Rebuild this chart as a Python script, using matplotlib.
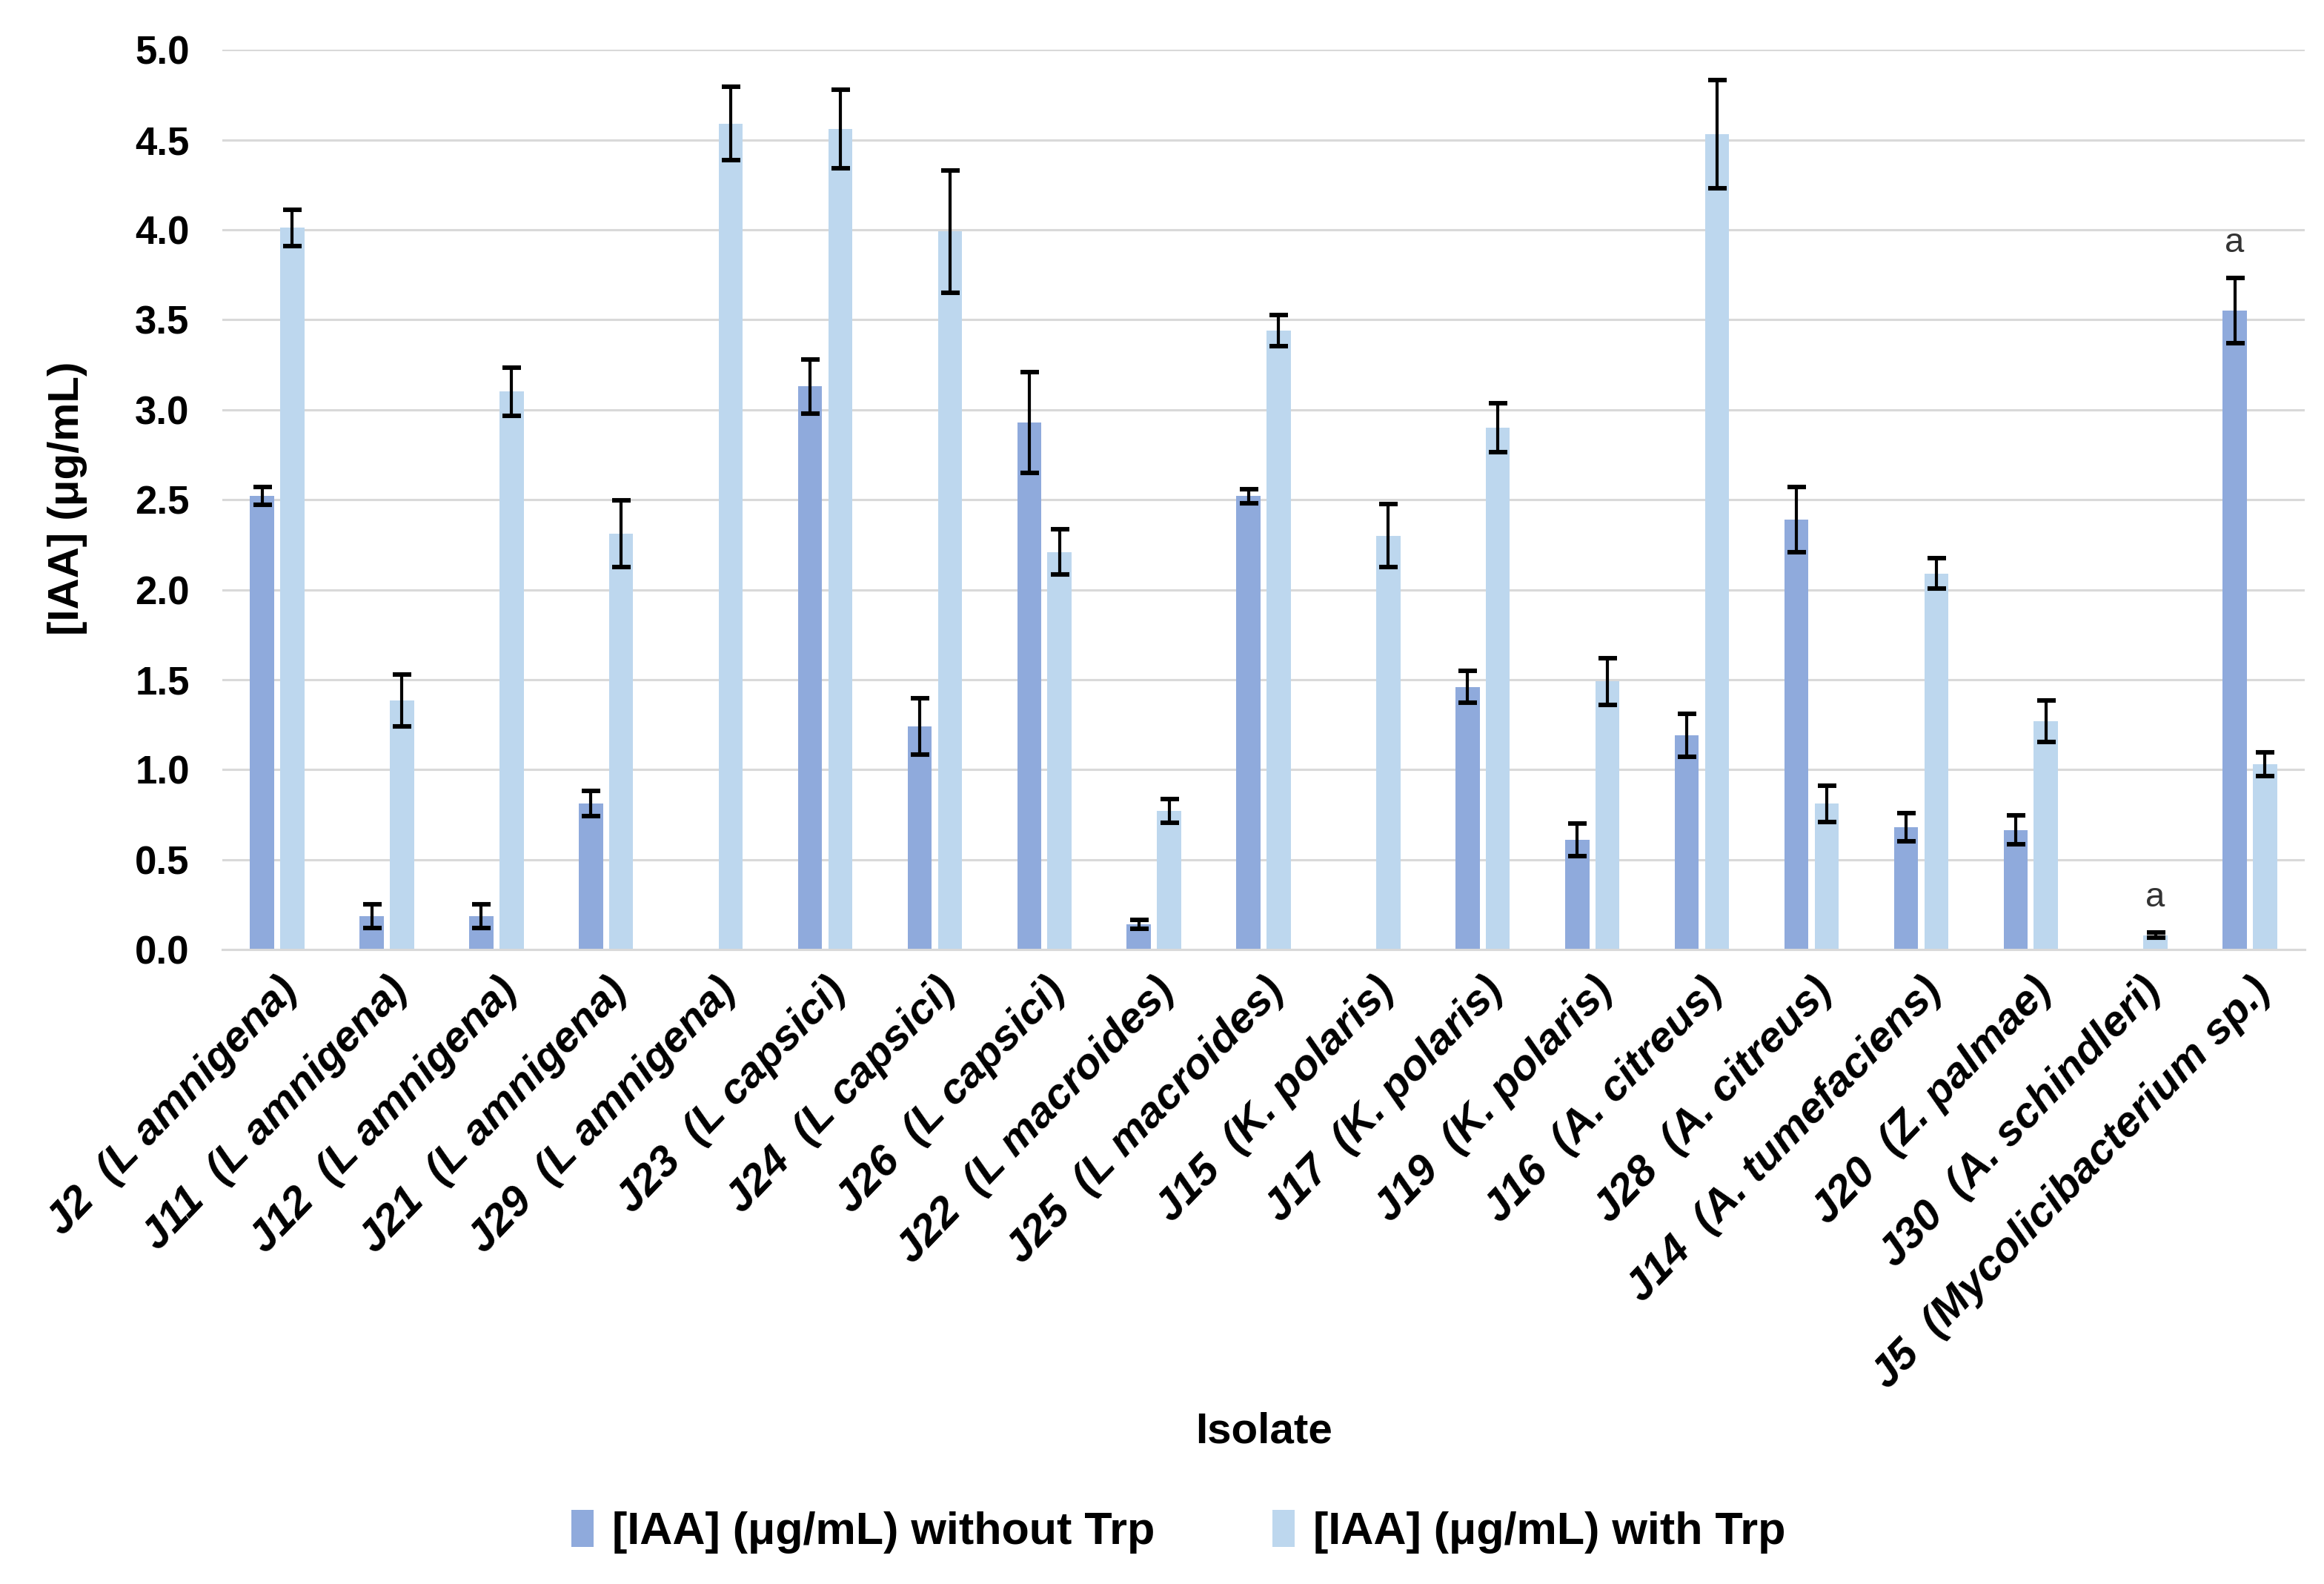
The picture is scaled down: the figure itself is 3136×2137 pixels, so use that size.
import numpy as np
import matplotlib.pyplot as plt

plt.rcParams['font.family'] = ['Liberation Sans', 'DejaVu Sans']

# isolates and species (x labels)
isolates = ['J2', 'J11', 'J12', 'J21', 'J29', 'J23', 'J24', 'J26', 'J22', 'J25',
            'J15', 'J17', 'J19', 'J16', 'J28', 'J14', 'J20', 'J30', 'J5']
species = ['L amnigena', 'L amnigena', 'L amnigena', 'L amnigena', 'L amnigena',
           'L capsici', 'L capsici', 'L capsici', 'L macroides', 'L macroides',
           'K. polaris', 'K. polaris', 'K. polaris', 'A. citreus', 'A. citreus',
           'A. tumefaciens', 'Z. palmae', 'A. schindleri', 'Mycolicibacterium sp.']

# [IAA] without Trp (mean, error)
iaa_without = [2.52, 0.185, 0.185, 0.81, 0.0, 3.13, 1.24, 2.93, 0.14, 2.52,
               0.0, 1.46, 0.61, 1.19, 2.39, 0.68, 0.665, 0.0, 3.55]
err_without = [0.05, 0.065, 0.065, 0.07, 0.0, 0.15, 0.155, 0.28, 0.025, 0.04,
               0.0, 0.09, 0.09, 0.12, 0.18, 0.08, 0.08, 0.0, 0.18]

# [IAA] with Trp (mean, error)
iaa_with = [4.01, 1.385, 3.10, 2.31, 4.59, 4.56, 3.99, 2.21, 0.77, 3.44,
            2.30, 2.90, 1.49, 4.53, 0.81, 2.09, 1.27, 0.08, 1.03]
err_with = [0.10, 0.145, 0.135, 0.185, 0.205, 0.22, 0.34, 0.125, 0.065, 0.085,
            0.175, 0.135, 0.13, 0.30, 0.10, 0.085, 0.115, 0.015, 0.065]

# significance letters: (index, series) -> text
letters = {(18, 'without'): 'a', (17, 'with'): 'a'}

c_dark = '#8FAADC'
c_light = '#BDD7EE'

fig = plt.figure(figsize=(15.68, 10.685), dpi=200)
ax = fig.add_axes([0.0957, 0.4005, 0.896, 0.5681])

x = np.arange(len(isolates))
w = 0.22
off = 0.138
v1 = np.array(iaa_without)
v2 = np.array(iaa_with)
e1 = np.array(err_without)
e2 = np.array(err_with)

ax.bar(x - off, v1, w, color=c_dark, label='[IAA] (μg/mL) without Trp', zorder=2)
ax.bar(x + off, v2, w, color=c_light, label='[IAA] (μg/mL) with Trp', zorder=2)

ekw = dict(fmt='none', ecolor='black', elinewidth=1.5, capsize=4.5, capthick=2.2, zorder=3)
m1 = v1 > 0
m2 = v2 > 0
ax.errorbar((x - off)[m1], v1[m1], yerr=e1[m1], **ekw)
ax.errorbar((x + off)[m2], v2[m2], yerr=e2[m2], **ekw)

for (i, s), txt in letters.items():
    if s == 'without':
        xx, top = i - off, v1[i] + e1[i]
    else:
        xx, top = i + off, v2[i] + e2[i]
    ax.annotate(txt, (xx, top), xytext=(0, 9), textcoords='offset points',
                ha='center', va='bottom', fontsize=17, color='#333333')

ax.set_xlim(-0.5, len(isolates) - 0.5)
ax.set_ylim(0, 5.0)
ax.set_yticks(np.arange(0, 5.01, 0.5))
ax.set_yticklabels([f'{t:.1f}' for t in np.arange(0, 5.01, 0.5)],
                   fontsize=19, fontweight='bold')
ax.yaxis.grid(True, color='#D9D9D9', linewidth=1.1, zorder=0)
ax.set_axisbelow(True)
for sp in ['top', 'right', 'left']:
    ax.spines[sp].set_visible(False)
ax.spines['bottom'].set_color('#D9D9D9')
ax.spines['bottom'].set_linewidth(1.1)
ax.tick_params(axis='both', length=0)
ax.tick_params(axis='y', pad=16)

labels = [f'{a}  ({b})' for a, b in zip(isolates, species)]
ax.set_xticks(x)
ax.set_xticklabels(labels, rotation=46, ha='right', va='top', rotation_mode='anchor',
                   fontsize=21, fontweight='bold', fontstyle='italic')
ax.tick_params(axis='x', pad=10)

fig.text(0.544, 0.096, 'Isolate', ha='center', va='center', fontsize=21, fontweight='bold')
fig.text(0.029, 0.6855, '[IAA] (μg/mL)', ha='center', va='center', rotation=90,
         fontsize=21, fontweight='bold')

fig.legend(loc='center', bbox_to_anchor=(0.507, 0.033), ncol=2, frameon=False,
           prop={'weight': 'bold', 'size': 22},
           handlelength=0.5, handleheight=0.9, handletextpad=0.4, columnspacing=2.6)

fig.savefig('out.png', dpi=200, facecolor='white')
